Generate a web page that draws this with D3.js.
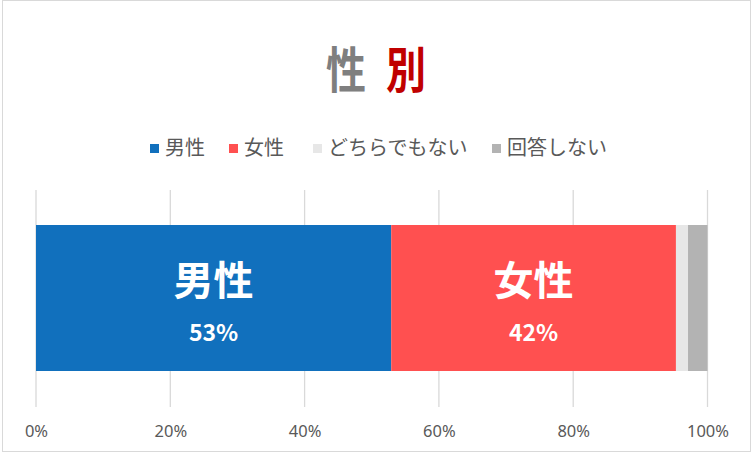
<!DOCTYPE html>
<html>
<head>
<meta charset="utf-8">
<script src="https://cdn.jsdelivr.net/npm/d3@7.9.0/dist/d3.min.js"></script>
<style>
  body { margin: 0; background: #fff; }
  svg { display: block; font-family: "Noto Sans CJK JP", "Noto Sans", sans-serif; }
</style>
</head>
<body>
<svg id="chart" width="752" height="454"></svg>
<script>
// data
const categories = ['男性', '女性', 'どちらでもない', '回答しない'];
const shares = [52.9, 42.4, 1.8, 2.9];
const colors = ['#1170bd', '#ff5050', '#e7e7e7', '#b3b3b3'];
const barLabels = ['男性', '女性', '', ''];
const tickValues = [0, 20, 40, 60, 80, 100];

const svg = d3.select('#chart');

// outer frame
svg.append('rect')
  .attr('x', 2.5).attr('y', 0.5)
  .attr('width', 748).attr('height', 451)
  .attr('fill', '#fff')
  .attr('stroke', '#d9d9d9');

// title, two colours, a bit stretched vertically like the original font
const title = svg.append('text')
  .attr('transform', 'translate(376,88) scale(1,1.22)')
  .attr('text-anchor', 'middle')
  .attr('font-size', 40)
  .attr('font-weight', 'bold');
title.append('tspan').attr('fill', '#7f7f7f').text('性');
title.append('tspan').attr('fill', '#c00000').attr('dx', 20).text('別');

// legend
const legendX = [150, 229, 313, 492];
const legend = svg.append('g');
categories.forEach((c, i) => {
  const g = legend.append('g').attr('transform', `translate(${legendX[i]},144)`);
  g.append('rect').attr('width', 9).attr('height', 9).attr('fill', colors[i]);
  g.append('text')
    .attr('x', 15).attr('y', 11)
    .attr('font-size', 20)
    .attr('fill', '#595959')
    .text(c);
});

// scales
const x = d3.scaleLinear().domain([0, 100]).range([36, 707.5]);

// gridlines
svg.append('g')
  .selectAll('line')
  .data(tickValues)
  .join('line')
  .attr('x1', d => x(d)).attr('x2', d => x(d))
  .attr('y1', 190).attr('y2', 407)
  .attr('stroke', '#d9d9d9')
  .attr('stroke-width', 1.3);

// stacked segments
let acc = 0;
const segs = shares.map((v, i) => {
  const s = { start: acc, end: acc + v, value: v, i };
  acc += v;
  return s;
});

const barTop = 225, barH = 146;
svg.append('g')
  .selectAll('rect')
  .data(segs)
  .join('rect')
  .attr('x', d => x(d.start))
  .attr('y', barTop)
  .attr('width', d => x(d.end) - x(d.start))
  .attr('height', barH)
  .attr('fill', d => colors[d.i]);

// labels in the big segments
const lab = svg.append('g').selectAll('g')
  .data(segs.filter(d => barLabels[d.i]))
  .join('g')
  .attr('transform', d => `translate(${(x(d.start) + x(d.end)) / 2},0)`);
lab.append('text')
  .attr('y', 295)
  .attr('text-anchor', 'middle')
  .attr('font-size', 40)
  .attr('font-weight', 'bold')
  .attr('fill', '#fff')
  .text(d => barLabels[d.i]);
lab.append('text')
  .attr('y', 341)
  .attr('text-anchor', 'middle')
  .attr('font-size', 23)
  .attr('font-weight', 'bold')
  .attr('fill', '#fff')
  .text(d => Math.round(d.value) + '%');

// x axis labels
const axis = d3.axisBottom(x)
  .tickValues(tickValues)
  .tickFormat(d => d + '%')
  .tickSize(0)
  .tickPadding(0);
const ax = svg.append('g').attr('transform', 'translate(0,422)').call(axis);
ax.select('.domain').remove();
ax.selectAll('text')
  .attr('dy', null)
  .attr('y', 15)
  .attr('font-size', 16.5)
  .attr('font-family', '"Noto Sans", sans-serif')
  .attr('fill', '#595959');
</script>
</body>
</html>
